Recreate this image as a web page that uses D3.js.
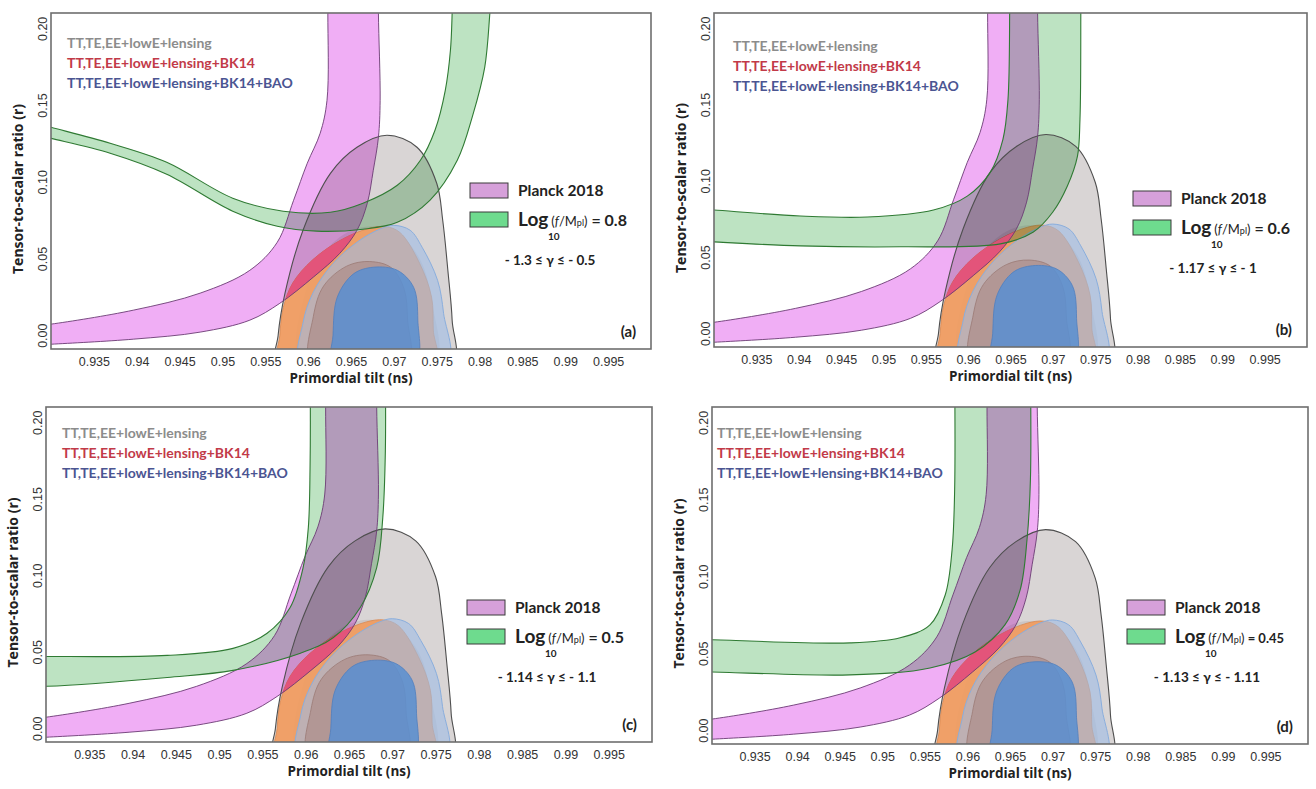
<!DOCTYPE html>
<html lang="en">
<head>
<meta charset="UTF-8">
<title>Tensor-to-scalar ratio vs primordial tilt</title>
<script src="https://d3js.org/d3.v7.min.js"></script>
<style>
  body { margin: 0; background: #fff; }
  svg { display: block; }
  .tick text { font-family: "Liberation Sans", Arial, sans-serif; font-size: 12.5px; fill: #333; }
  .axis-title { font-family: "Open Sans", sans-serif; font-weight: bold; font-size: 13.5px; fill: #222; }
  .lbl { font-family: Lato, "Open Sans", sans-serif; font-weight: bold; }
  .band { mix-blend-mode: multiply; }
</style>
</head>
<body>
<svg id="chart" width="1316" height="789"></svg>
<script>
// axes
const nsDomain = [0.93, 1.0];
const rDomain = [-0.009, 0.21];
const nsTicks = [0.935, 0.94, 0.945, 0.95, 0.955, 0.96, 0.965, 0.97, 0.975, 0.98, 0.985, 0.99, 0.995];
const rTicks = [0.00, 0.05, 0.10, 0.15, 0.20];

// dataset labels (top-left of each panel)
const datasetNames = ["TT,TE,EE+lowE+lensing", "TT,TE,EE+lowE+lensing+BK14", "TT,TE,EE+lowE+lensing+BK14+BAO"];
const datasetColors = ["#8c8c8c", "#c23a48", "#4b5592"];

// Planck 2018 contours [ns, r] (same in every panel)
const gray95 = [[0.9564,-0.02],[0.9565,0.0],[0.9573,0.0274],[0.9594,0.0684],[0.9626,0.1055],[0.9657,0.1225],[0.9692,0.1303],[0.9727,0.1225],[0.9750,0.0990],[0.9757,0.0749],[0.9763,0.0423],[0.9768,0.0098],[0.9768,-0.02]];
const gray68 = [[0.9593,-0.02],[0.9598,0.030],[0.9625,0.058],[0.9660,0.070],[0.9700,0.068],[0.9730,0.050],[0.9745,0.020],[0.9747,-0.02]];
const red95 = [[0.9566,-0.02],[0.9567,0.0],[0.9571,0.018],[0.9582,0.034],[0.9605,0.049],[0.9638,0.062],[0.9670,0.0695],[0.9690,0.0708],[0.9707,0.0670],[0.9730,0.0469],[0.9744,0.0248],[0.9746,0.0033],[0.9748,-0.02]];
const blue95 = [[0.9592,-0.02],[0.9594,0.008],[0.9606,0.028],[0.9628,0.046],[0.9658,0.061],[0.9685,0.0695],[0.9700,0.0716],[0.9719,0.0684],[0.9733,0.0573],[0.9751,0.0358],[0.9758,0.0143],[0.9762,-0.02]];
const red68 = [[0.9604,-0.02],[0.9606,0.012],[0.9618,0.032],[0.9645,0.045],[0.9672,0.048],[0.9697,0.044],[0.9712,0.030],[0.9716,0.010],[0.9716,-0.02]];
const blue68 = [[0.9629,-0.02],[0.9629,0.0],[0.9634,0.0248],[0.9653,0.0400],[0.9676,0.0443],[0.9704,0.0423],[0.9723,0.0313],[0.9728,0.0098],[0.9724,-0.02]];

// "Planck 2018" band (magenta), same in every panel
const magentaInner = [[0.928,0.0060],[0.9300,0.0072],[0.9396,0.0163],[0.9474,0.0274],[0.9532,0.0423],[0.9564,0.0606],[0.9583,0.0879],[0.9599,0.1121],[0.9614,0.1316],[0.9622,0.1531],[0.9623,0.2098],[0.9623,0.235]];
const magentaOuter = [[0.928,-0.0065],[0.9300,-0.0059],[0.9396,-0.0026],[0.9474,0.0020],[0.9532,0.0098],[0.9567,0.0208],[0.9606,0.0378],[0.9637,0.0534],[0.9657,0.0684],[0.9669,0.0860],[0.9676,0.1075],[0.9682,0.1290],[0.9684,0.1531],[0.9682,0.2098],[0.9682,0.235]];

// model bands (green), one per panel
const greenInnerA = [[0.928,0.1385],[0.9300,0.1355],[0.9369,0.1251],[0.9435,0.1127],[0.9512,0.0893],[0.9571,0.0808],[0.9626,0.0801],[0.9664,0.0860],[0.9704,0.0977],[0.9731,0.1140],[0.9748,0.1336],[0.9760,0.1596],[0.9766,0.1857],[0.9768,0.2098],[0.9769,0.235]];
const greenOuterA = [[0.928,0.1310],[0.9300,0.1283],[0.9369,0.1186],[0.9435,0.1049],[0.9512,0.0808],[0.9564,0.0710],[0.9610,0.0678],[0.9664,0.0691],[0.9704,0.0736],[0.9742,0.0879],[0.9774,0.1140],[0.9792,0.1433],[0.9806,0.1746],[0.9812,0.2098],[0.9815,0.235]];
const greenInnerB = [[0.928,0.0815],[0.9300,0.0808],[0.9402,0.0769],[0.9481,0.0762],[0.9559,0.0808],[0.9599,0.0899],[0.9626,0.1055],[0.9641,0.1270],[0.9647,0.1531],[0.9649,0.2098],[0.9649,0.235]];
const greenOuterB = [[0.928,0.0605],[0.9300,0.0599],[0.9402,0.0573],[0.9520,0.0567],[0.9638,0.0586],[0.9677,0.0664],[0.9700,0.0795],[0.9717,0.0964],[0.9729,0.1160],[0.9732,0.1401],[0.9733,0.2098],[0.9733,0.235]];
const greenInnerC = [[0.928,0.0469],[0.9301,0.0469],[0.9440,0.0476],[0.9516,0.0522],[0.9555,0.0619],[0.9582,0.0789],[0.9597,0.1050],[0.9603,0.1310],[0.9605,0.1701],[0.9605,0.235]];
const greenOuterC = [[0.928,0.0274],[0.9301,0.0274],[0.9440,0.0332],[0.9516,0.0378],[0.9593,0.0489],[0.9632,0.0593],[0.9663,0.0789],[0.9682,0.1050],[0.9689,0.1375],[0.9692,0.1812],[0.9692,0.235]];
const greenInnerD = [[0.928,0.0587],[0.9300,0.0587],[0.9462,0.0567],[0.9521,0.0600],[0.9556,0.0684],[0.9574,0.0880],[0.9582,0.1173],[0.9585,0.1565],[0.9585,0.235]];
const greenOuterD = [[0.928,0.0378],[0.9300,0.0378],[0.9462,0.0359],[0.9556,0.0404],[0.9609,0.0508],[0.9644,0.0684],[0.9662,0.0913],[0.9670,0.1239],[0.9674,0.1630],[0.9674,0.235]];

const panelTags = ["(a)", "(b)", "(c)", "(d)"];
const logValues = ["0.8", "0.6", "0.5", "0.45"];
const gammaTexts = ["- 1.3 \u2264 \u03b3 \u2264 - 0.5", "- 1.17 \u2264 \u03b3 \u2264 - 1", "- 1.14 \u2264 \u03b3 \u2264 - 1.1", "- 1.13 \u2264 \u03b3 \u2264 - 1.11"];
const greenBands = [[greenInnerA, greenOuterA], [greenInnerB, greenOuterB], [greenInnerC, greenOuterC], [greenInnerD, greenOuterD]];

// panel boxes and legend placement
const layout = [
  { left: 51,  top: 13,  width: 600, height: 336, textX: 16, textY: 35, legX: 419, legY: 170, valSize: 16 },
  { left: 714, top: 13,  width: 593, height: 334, textX: 19, textY: 38, legX: 419, legY: 178, valSize: 16 },
  { left: 46,  top: 407, width: 606, height: 335, textX: 16, textY: 31, legX: 421, legY: 193, valSize: 16 },
  { left: 712, top: 407, width: 596, height: 337, textX: 5,  textY: 31, legX: 415, legY: 193, valSize: 13 }
];

const svg = d3.select("#chart");

layout.forEach((p, i) => {
  const x = d3.scaleLinear().domain(nsDomain).range([0, p.width]);
  const y = d3.scaleLinear().domain(rDomain).range([p.height, 0]);
  const g = svg.append("g").attr("transform", `translate(${p.left},${p.top})`);

  const closed = d3.line().x(d => x(d[0])).y(d => y(d[1])).curve(d3.curveCatmullRomClosed.alpha(0.5));
  const open = d3.line().x(d => x(d[0])).y(d => y(d[1])).curve(d3.curveCatmullRom.alpha(0.5));
  const bandPath = (inner, outer) => open(inner) + open(outer.slice().reverse()).replace(/^M/, "L") + "Z";

  g.append("clipPath").attr("id", "clip" + i)
    .append("rect").attr("width", p.width).attr("height", p.height);
  g.append("clipPath").attr("id", "mag" + i)
    .append("path").attr("d", bandPath(magentaInner, magentaOuter));

  const plot = g.append("g").attr("clip-path", `url(#clip${i})`);

  // Planck contours
  plot.append("path").attr("d", closed(gray95)).attr("fill", "#d9d5d5");
  plot.append("path").attr("d", closed(gray68)).attr("fill", "#cbc5c5");
  plot.append("path").attr("d", closed(red95)).attr("fill", "#f29a5c").attr("fill-opacity", 0.9).attr("stroke", "#d9884f").attr("stroke-width", 0.8);
  plot.append("path").attr("d", closed(blue95)).attr("fill", "#9fbde6").attr("fill-opacity", 0.6).attr("stroke", "#8aaedd").attr("stroke-width", 1);
  plot.append("path").attr("d", closed(red68)).attr("fill", "#a47a72").attr("fill-opacity", 0.45).attr("stroke", "#9a7a75").attr("stroke-width", 0.8);
  plot.append("path").attr("d", closed(blue68)).attr("fill", "#5b8fd0").attr("fill-opacity", 0.88).attr("stroke", "#4f7fbf").attr("stroke-width", 0.8);

  // bands
  const [gIn, gOut] = greenBands[i];
  plot.append("path").attr("class", "band").attr("d", bandPath(magentaInner, magentaOuter)).attr("fill", "#f0aef5");
  plot.append("path").attr("class", "band").attr("d", bandPath(gIn, gOut)).attr("fill", "#bde3c2");
  // where the BK14 contour crosses the Planck band it shows pink
  plot.append("path").attr("d", closed(red95)).attr("clip-path", `url(#mag${i})`)
    .attr("fill", "#e3507e").attr("fill-opacity", 0.85);
  plot.append("path").attr("d", closed(gray95)).attr("fill", "none").attr("stroke", "#4f4f4f").attr("stroke-width", 1.1);
  [magentaInner, magentaOuter].forEach(e => plot.append("path").attr("d", open(e)).attr("fill", "none").attr("stroke", "#6b3b74").attr("stroke-width", 0.9));
  [gIn, gOut].forEach(e => plot.append("path").attr("d", open(e)).attr("fill", "none").attr("stroke", "#2f7a33").attr("stroke-width", 1.1));

  // frame
  g.append("rect").attr("width", p.width).attr("height", p.height)
    .attr("fill", "none").attr("stroke", "#6e6e6e").attr("stroke-width", 1.6);

  // axes
  const xa = g.append("g").attr("transform", `translate(0,${p.height})`)
    .call(d3.axisBottom(x).tickValues(nsTicks).tickFormat(d => String(d)).tickSize(0).tickPadding(8));
  xa.select(".domain").remove();
  const ya = g.append("g")
    .call(d3.axisLeft(y).tickValues(rTicks).tickFormat(d3.format(".2f")).tickSize(0));
  ya.select(".domain").remove();
  ya.selectAll("text").attr("x", 0).attr("dy", 0).attr("text-anchor", "middle")
    .attr("transform", "translate(-4,0) rotate(-90)");

  g.append("text").attr("class", "axis-title").attr("text-anchor", "middle")
    .attr("x", p.width / 2).attr("y", p.height + 34).text("Primordial tilt (ns)");
  g.append("text").attr("class", "axis-title").attr("text-anchor", "middle").style("font-size", "14px")
    .attr("transform", `translate(-28,${p.height / 2 + 8}) rotate(-90)`).text("Tensor-to-scalar ratio (r)");

  // dataset labels
  datasetNames.forEach((name, k) => {
    g.append("text").attr("class", "lbl").attr("x", p.textX).attr("y", p.textY + k * 20)
      .style("font-size", "14px").attr("fill", datasetColors[k]).text(name);
  });

  // right legend
  const lg = g.append("g").attr("transform", `translate(${p.legX},${p.legY})`);
  lg.append("rect").attr("width", 38).attr("height", 15).attr("fill", "#d6a0da").attr("stroke", "#3a3a3a").attr("stroke-width", 1);
  lg.append("rect").attr("y", 29).attr("width", 38).attr("height", 15).attr("fill", "#6edb8e").attr("stroke", "#3a3a3a").attr("stroke-width", 1);
  lg.append("text").attr("class", "lbl").attr("x", 48).attr("y", 13).style("font-size", "15.5px").attr("fill", "#222").text("Planck 2018");
  const t = lg.append("text").attr("class", "lbl").attr("x", 48).attr("y", 43).attr("fill", "#222");
  t.append("tspan").style("font-size", "19px").text("Log");
  t.append("tspan").attr("dx", 3).style("font-size", "13px").style("font-weight", "normal").text("(");
  t.append("tspan").style("font-size", "13px").style("font-weight", "normal").style("font-style", "italic").text("f");
  t.append("tspan").style("font-size", "13px").style("font-weight", "normal").text("/M");
  t.append("tspan").style("font-size", "9px").style("font-weight", "normal").text("pl");
  t.append("tspan").style("font-size", "13px").style("font-weight", "normal").text(")");
  t.append("tspan").style("font-size", p.valSize + "px").text(" = " + logValues[i]);
  lg.append("text").attr("class", "lbl").attr("x", 78).attr("y", 57).style("font-size", "10px").attr("fill", "#222").text("10");
  lg.append("text").attr("class", "lbl").attr("x", 80).attr("y", 82).attr("text-anchor", "middle")
    .style("font-size", "13.5px").attr("fill", "#222").text(gammaTexts[i]);

  g.append("text").attr("class", "lbl").attr("x", p.width - 15).attr("y", p.height - 12)
    .attr("text-anchor", "end").style("font-size", "15px").attr("fill", "#222").text(panelTags[i]);
});
</script>
</body>
</html>
